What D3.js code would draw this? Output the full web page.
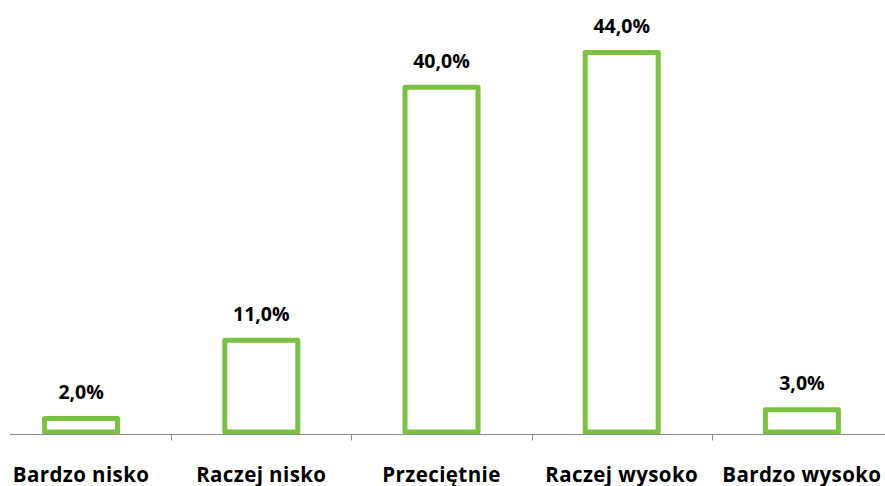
<!DOCTYPE html>
<html>
<head>
<meta charset="utf-8">
<script src="https://cdn.jsdelivr.net/npm/d3@7"></script>
<style>
  body { margin: 0; background: #fff; }
  svg { display: block; }
  .label { font-family: "Open Sans", sans-serif; font-weight: 700; fill: #000; }
</style>
</head>
<body>
<svg id="chart" width="885" height="486"></svg>
<script>
var categories = ["Bardzo nisko", "Raczej nisko", "Przeciętnie", "Raczej wysoko", "Bardzo wysoko"];
var values = [2.0, 11.0, 40.0, 44.0, 3.0];

var svg = d3.select("#chart"),
    baseline = 434.5;

var xScale = d3.scaleBand().domain(categories).range([-9, 892]).paddingInner(0).paddingOuter(0),
    yScale = d3.scaleLinear().domain([0, 44]).range([436, 52.5]);

var barW = 73;

// bars
svg.selectAll(".bar")
  .data(values)
  .enter().append("rect")
    .attr("class", "bar")
    .attr("x", function(d, i) { return xScale(categories[i]) + xScale.bandwidth() / 2 - barW / 2; })
    .attr("y", function(d) { return yScale(d); })
    .attr("width", barW)
    .attr("height", function(d) { return 432 - yScale(d); })
    .attr("fill", "#fff")
    .attr("stroke", "#7cc242")
    .attr("stroke-width", 5)
    .attr("stroke-linejoin", "round");

// axis line + ticks
svg.append("line")
  .attr("x1", 10).attr("x2", 885)
  .attr("y1", baseline).attr("y2", baseline)
  .attr("stroke", "#8c8c8c").attr("stroke-width", 1);

svg.selectAll(".tick")
  .data(categories.slice(1))
  .enter().append("line")
    .attr("x1", function(d) { return Math.round(xScale(d)) + 0.5; })
    .attr("x2", function(d) { return Math.round(xScale(d)) + 0.5; })
    .attr("y1", baseline).attr("y2", baseline + 6)
    .attr("stroke", "#8c8c8c");

// value labels
svg.selectAll(".val")
  .data(values)
  .enter().append("text")
    .attr("class", "label")
    .attr("x", function(d, i) { return xScale(categories[i]) + xScale.bandwidth() / 2; })
    .attr("y", function(d) { return yScale(d) - 19.5; })
    .attr("text-anchor", "middle")
    .style("font-size", "19.5px")
    .text(function(d) { return d.toFixed(1).replace(".", ",") + "%"; });

// category labels
svg.selectAll(".cat")
  .data(categories)
  .enter().append("text")
    .attr("class", "label")
    .attr("x", function(d) { return xScale(d) + xScale.bandwidth() / 2; })
    .attr("y", 481.5)
    .attr("text-anchor", "middle")
    .style("font-size", "20.5px")
    .style("letter-spacing", "0.4px")
    .text(function(d) { return d; });
</script>
</body>
</html>
